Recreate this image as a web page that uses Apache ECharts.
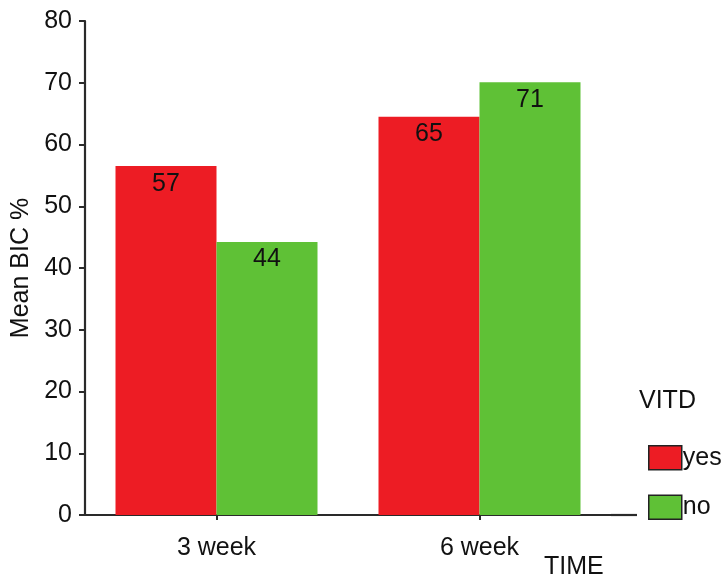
<!DOCTYPE html>
<html>
<head>
<meta charset="utf-8">
<script src="https://cdn.jsdelivr.net/npm/echarts@6/dist/echarts.min.js"></script>
<style>html,body{margin:0;padding:0;background:#fff}#c{width:726px;height:586px}</style>
</head>
<body>
<div id="c"></div>
<script>
const categories = ['3 week', '6 week'];
const yesValues = [56.5, 64.5];
const noValues = [44.2, 70.1];
const yesLabels = [57, 65];
const noLabels = [44, 71];
const yTicks = [0, 10, 20, 30, 40, 50, 60, 70, 80];

const W = 726, H = 586;
const gridLeft = 85, gridRight = 115, gridTop = 21, gridBottom = 71;
const font = 'Liberation Sans, Arial, sans-serif';
const axisColor = '#2a2a2a';
const txt = '#111';

const chart = echarts.init(document.getElementById('c'), null, {renderer: 'canvas'});
chart.setOption({
  animation: false,
  backgroundColor: '#fff',
  textStyle: {fontFamily: font},
  title: {
    text: 'VITD', left: 639, top: 389, padding: 0,
    textStyle: {fontFamily: font, fontSize: 25, fontWeight: 'normal', color: txt}
  },
  legend: {
    orient: 'vertical', left: 648, top: 445, padding: 0,
    itemWidth: 33, itemHeight: 24, itemGap: 24,
    icon: 'rect',
    itemStyle: {borderColor: '#222', borderWidth: 1.5},
    textStyle: {fontFamily: font, fontSize: 25, color: txt, padding: [0, 0, 0, -4]},
    data: ['yes', 'no']
  },
  grid: {left: gridLeft, right: gridRight, top: gridTop, bottom: gridBottom, outerBoundsMode: 'none', containLabel: false},
  xAxis: {
    type: 'category',
    data: categories,
    name: 'TIME',
    nameLocation: 'end',
    nameGap: -67,
    nameTextStyle: {fontFamily: font, fontSize: 25, color: txt, verticalAlign: 'top', align: 'left', padding: [40, 0, 0, 0]},
    axisLine: {lineStyle: {color: axisColor, width: 2.2}},
    axisTick: {show: true, alignWithLabel: true, length: 5, lineStyle: {color: axisColor, width: 2}},
    axisLabel: {fontFamily: font, fontSize: 25, color: txt, margin: 21}
  },
  yAxis: {
    type: 'value',
    min: yTicks[0], max: yTicks[yTicks.length - 1], interval: 10,
    name: 'Mean BIC %',
    nameLocation: 'middle',
    nameGap: 49,
    nameTextStyle: {fontFamily: font, fontSize: 25, color: txt},
    axisLine: {show: true, lineStyle: {color: axisColor, width: 2.2}},
    axisTick: {show: true, length: 6, lineStyle: {color: axisColor, width: 2}},
    axisLabel: {fontFamily: font, fontSize: 25, color: txt, margin: 13},
    splitLine: {show: false}
  },
  graphic: [{
    type: 'line',
    shape: {x1: W - gridRight, y1: H - gridBottom, x2: W - gridRight + 26, y2: H - gridBottom},
    style: {stroke: axisColor, lineWidth: 2.2}
  }],
  series: [
    {
      name: 'yes', type: 'bar', data: yesValues,
      barWidth: 101, barGap: '0%',
      itemStyle: {color: '#ED1C24'},
      label: {show: true, position: 'insideTop', distance: 5, fontFamily: font, fontSize: 25, color: txt,
        formatter: p => String(yesLabels[p.dataIndex])}
    },
    {
      name: 'no', type: 'bar', data: noValues,
      barWidth: 101, barGap: '0%',
      itemStyle: {color: '#5FC136'},
      label: {show: true, position: 'insideTop', distance: 5, fontFamily: font, fontSize: 25, color: txt,
        formatter: p => String(noLabels[p.dataIndex])}
    }
  ]
});
</script>
</body>
</html>
